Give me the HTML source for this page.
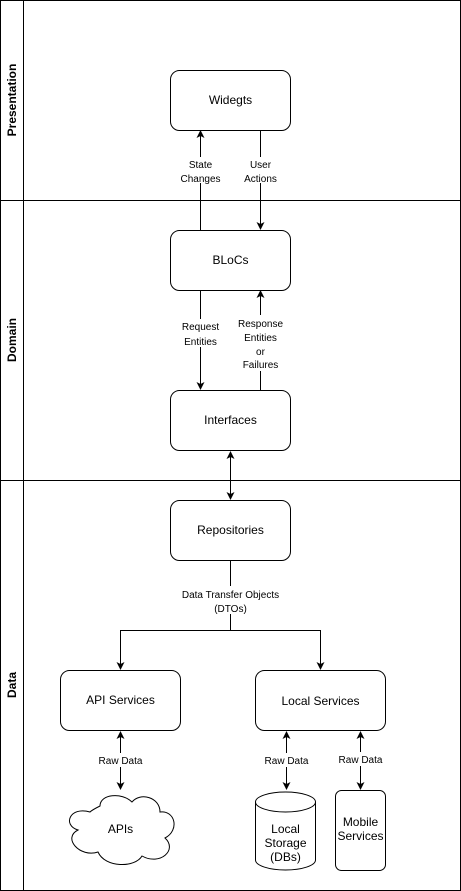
<!DOCTYPE html>
<html><head><meta charset="utf-8"><style>
html,body{margin:0;padding:0;background:#fff;}
svg{display:block;}
text{font-family:"Liberation Sans",Arial,sans-serif;font-size:12px;fill:#000;}
.s{font-size:10px;}
.b{font-weight:bold;font-size:12px;}
</style></head><body>
<svg width="461" height="891" viewBox="0 0 461 891" xmlns="http://www.w3.org/2000/svg">
<defs>
<marker id="a" markerWidth="8" markerHeight="8" refX="7" refY="4" orient="auto" markerUnits="userSpaceOnUse">
<path d="M0,0 L8,4 L0,8 L2,4 Z" fill="#000"/></marker>
<marker id="r" markerWidth="8" markerHeight="8" refX="1" refY="4" orient="auto" markerUnits="userSpaceOnUse">
<path d="M8,0 L0,4 L8,8 L6,4 Z" fill="#000"/></marker>
</defs>
<g fill="none" stroke="#000" stroke-width="1">
<rect x="0.5" y="0.5" width="460" height="890"/>
<line x1="23.5" y1="0" x2="23.5" y2="891"/>
<line x1="0" y1="200.5" x2="461" y2="200.5"/>
<line x1="0" y1="480.5" x2="461" y2="480.5"/>
<rect x="170.5" y="70.5" width="120" height="60" rx="9"/>
<rect x="170.5" y="230.5" width="120" height="60" rx="9"/>
<rect x="170.5" y="390.5" width="120" height="60" rx="9"/>
<rect x="170.5" y="500.5" width="120" height="60" rx="9"/>
<rect x="60.5" y="670.5" width="120" height="60" rx="9"/>
<rect x="255.5" y="670.5" width="130" height="60" rx="9"/>
<rect x="335.5" y="790.5" width="50" height="80" rx="6"/>
<path d="M255.5,802 L255.5,860 A30,10 0 0 0 315.5,860 L315.5,802"/>
<ellipse cx="285.5" cy="802" rx="30" ry="10"/>
<path d="M90,812 C70,806 62,825 78,830 C62,838 80,858 98,852 C105,868 135,868 142,856 C160,866 178,850 165,838 C180,830 175,810 160,812 C160,797 140,792 132,802 C122,792 100,794 100,806 C96,808 92,810 90,812 Z"/>
<line x1="200.5" y1="230" x2="200.5" y2="131" marker-end="url(#a)"/>
<line x1="260.5" y1="130" x2="260.5" y2="229" marker-end="url(#a)"/>
<line x1="200.5" y1="290" x2="200.5" y2="389" marker-end="url(#a)"/>
<line x1="260.5" y1="390" x2="260.5" y2="291" marker-end="url(#a)"/>
<line x1="230.5" y1="452" x2="230.5" y2="499" marker-start="url(#r)" marker-end="url(#a)"/>
<line x1="230.5" y1="560" x2="230.5" y2="630.5"/>
<line x1="120.5" y1="630.5" x2="320.5" y2="630.5"/>
<line x1="120.5" y1="630" x2="120.5" y2="669" marker-end="url(#a)"/>
<line x1="320.5" y1="630" x2="320.5" y2="669" marker-end="url(#a)"/>
<line x1="120.5" y1="732" x2="120.5" y2="789" marker-start="url(#r)" marker-end="url(#a)"/>
<line x1="286.5" y1="732" x2="286.5" y2="789" marker-start="url(#r)" marker-end="url(#a)"/>
<line x1="360.5" y1="732" x2="360.5" y2="789" marker-start="url(#r)" marker-end="url(#a)"/>
</g>
<g fill="#fff">
<rect x="178" y="157" width="44" height="26"/>
<rect x="240" y="157" width="40" height="26"/>
<rect x="176" y="319" width="48" height="28"/>
<rect x="234" y="315" width="52" height="56"/>
<rect x="176" y="586" width="110" height="28"/>
<rect x="95" y="753" width="50" height="14"/>
<rect x="260" y="753" width="52" height="14"/>
<rect x="335" y="752" width="52" height="14"/>
</g>
<g text-anchor="middle">
<text x="230.5" y="104">Widegts</text>
<text x="230.5" y="264">BLoCs</text>
<text x="230.5" y="424">Interfaces</text>
<text x="230.5" y="534">Repositories</text>
<text x="120.5" y="704">API Services</text>
<text x="320.5" y="705">Local Services</text>
<text x="120.5" y="833">APIs</text>
<text x="285.5" y="833">Local</text>
<text x="285.5" y="847">Storage</text>
<text x="285.5" y="861">(DBs)</text>
<text x="360.5" y="826">Mobile</text>
<text x="360.5" y="840">Services</text>
<text class="s" x="200.5" y="168">State</text>
<text class="s" x="200.5" y="182">Changes</text>
<text class="s" x="260.5" y="168">User</text>
<text class="s" x="260.5" y="182">Actions</text>
<text class="s" x="200.5" y="330">Request</text>
<text class="s" x="200.5" y="345">Entities</text>
<text class="s" x="260.5" y="327">Response</text>
<text class="s" x="260.5" y="341">Entities</text>
<text class="s" x="260.5" y="355">or</text>
<text class="s" x="260.5" y="368">Failures</text>
<text class="s" x="230.5" y="598">Data Transfer Objects</text>
<text class="s" x="230.5" y="612">(DTOs)</text>
<text class="s" x="120.5" y="764">Raw Data</text>
<text class="s" x="286.5" y="764">Raw Data</text>
<text class="s" x="360.5" y="763">Raw Data</text>
<text class="b" transform="translate(16,100) rotate(-90)">Presentation</text>
<text class="b" transform="translate(16,340) rotate(-90)">Domain</text>
<text class="b" transform="translate(16,685) rotate(-90)">Data</text>
</g>
</svg>
</body></html>
